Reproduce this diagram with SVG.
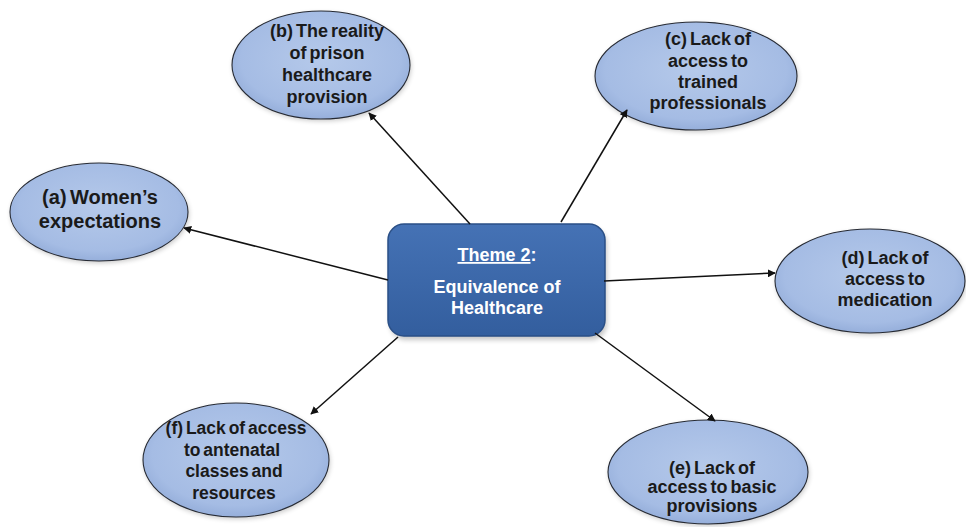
<svg xmlns="http://www.w3.org/2000/svg" width="966" height="527" viewBox="0 0 966 527">
<style>
.el{fill:url(#eg);stroke:#262a33;stroke-width:1.1}
.sh{fill:#000;opacity:0.22;filter:url(#blur)}
.t{font-family:"Liberation Sans",Arial,sans-serif;font-weight:bold;font-size:18px;fill:#1a1a1a;text-anchor:middle;word-spacing:-2px}
.w{font-family:"Liberation Sans",Arial,sans-serif;font-weight:bold;font-size:18px;fill:#ffffff;text-anchor:middle}
.c{stroke:#111;stroke-width:1.5;fill:none;marker-end:url(#ah)}
</style>
<defs>
<radialGradient id="eg" cx="0.5" cy="0.45" r="0.6">
<stop offset="0" stop-color="#b5c9ea"/>
<stop offset="0.75" stop-color="#a5bce4"/>
<stop offset="1" stop-color="#8ea8d6"/>
</radialGradient>
<linearGradient id="bg" x1="0" y1="0" x2="0" y2="1">
<stop offset="0" stop-color="#4572b5"/>
<stop offset="1" stop-color="#335e9e"/>
</linearGradient>
<filter id="blur" x="-20%" y="-20%" width="140%" height="140%"><feGaussianBlur stdDeviation="2.5"/></filter>
<marker id="ah" viewBox="0 0 10 10" refX="9" refY="5" markerWidth="8" markerHeight="8" markerUnits="userSpaceOnUse" orient="auto">
<path d="M0,0 L10,5 L0,10 z" fill="#111"/>
</marker>
</defs>
<rect width="966" height="527" fill="#fff"/>
<g id="center">
<rect class="sh" x="390" y="228" width="217" height="112" rx="16"/>
<rect x="388" y="224" width="217" height="112" rx="16" fill="url(#bg)" stroke="#2a4f86" stroke-width="1.5"/>
<text class="w" x="497" y="261"><tspan text-decoration="underline">Theme 2</tspan>:</text>
<text class="w" x="497" y="293">Equivalence of</text>
<text class="w" x="497" y="314">Healthcare</text>
</g>
<g id="node-a">
<ellipse class="sh" cx="100" cy="214" rx="89" ry="49"/>
<ellipse class="el" cx="99" cy="212" rx="89" ry="49"/>
<text class="t" x="100" y="204" style="font-size:20px">(a) Women’s</text>
<text class="t" x="100" y="228" style="font-size:20px">expectations</text>
</g>
<g id="node-b">
<ellipse class="sh" cx="322" cy="67" rx="89" ry="54"/>
<ellipse class="el" cx="321" cy="65" rx="89" ry="54"/>
<text class="t" x="327" y="37">(b) The reality</text>
<text class="t" x="327" y="59">of prison</text>
<text class="t" x="327" y="81">healthcare</text>
<text class="t" x="327" y="103">provision</text>
</g>
<g id="node-c">
<ellipse class="sh" cx="697" cy="78" rx="101" ry="54"/>
<ellipse class="el" cx="696" cy="76" rx="101" ry="54"/>
<text class="t" x="708" y="45">(c) Lack of</text>
<text class="t" x="708" y="67">access to</text>
<text class="t" x="708" y="88">trained</text>
<text class="t" x="708" y="109">professionals</text>
</g>
<g id="node-d">
<ellipse class="sh" cx="871" cy="283" rx="95" ry="52"/>
<ellipse class="el" cx="870" cy="281" rx="95" ry="52"/>
<text class="t" x="885" y="264">(d) Lack of</text>
<text class="t" x="885" y="285">access to</text>
<text class="t" x="885" y="306">medication</text>
</g>
<g id="node-e">
<ellipse class="sh" cx="709" cy="474" rx="100" ry="52"/>
<ellipse class="el" cx="708" cy="472" rx="100" ry="52"/>
<text class="t" x="712" y="474">(e) Lack of</text>
<text class="t" x="712" y="493">access to basic</text>
<text class="t" x="712" y="512">provisions</text>
</g>
<g id="node-f">
<ellipse class="sh" cx="237" cy="462" rx="93" ry="57"/>
<ellipse class="el" cx="236" cy="460" rx="93" ry="57"/>
<text class="t" x="236" y="434" style="font-size:17.5px">(f) Lack of access</text>
<text class="t" x="232" y="456" style="font-size:17.5px">to antenatal</text>
<text class="t" x="234" y="477" style="font-size:17.5px">classes and</text>
<text class="t" x="234" y="499" style="font-size:17.5px">resources</text>
</g>
<g id="connectors">
<line class="c" x1="388" y1="280" x2="184" y2="228"/>
<line class="c" x1="470" y1="224" x2="369" y2="113"/>
<line class="c" x1="561" y1="222" x2="627" y2="110"/>
<line class="c" x1="604" y1="281" x2="775" y2="273"/>
<line class="c" x1="595" y1="333" x2="715" y2="421"/>
<line class="c" x1="398" y1="337" x2="311" y2="414"/>
</g>
</svg>
